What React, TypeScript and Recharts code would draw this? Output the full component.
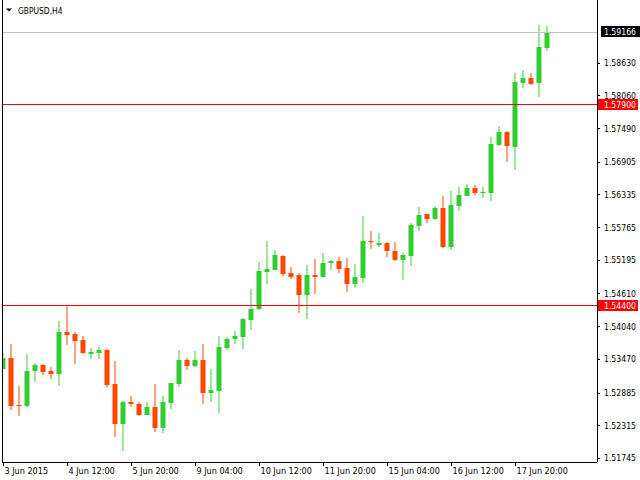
import React from "react";
import { ComposedChart, Bar, XAxis, YAxis, ReferenceLine } from "recharts";

// GBPUSD H4 candles, 3 Jun 2015 04:00 .. 18 Jun 2015
const OPEN = [
  1.53303, 1.53495, 1.52676, 1.52659, 1.53274, 1.53373, 1.53268, 1.53221, 1.53947, 1.53913,
  1.53808, 1.5357, 1.53587, 1.53634, 1.53042, 1.52351, 1.52729, 1.52694, 1.52508, 1.52642,
  1.52281, 1.52716, 1.53047, 1.5346, 1.53361, 1.5346, 1.52891, 1.52925, 1.53674, 1.53831,
  1.53866, 1.54161, 1.54353, 1.54997, 1.55032, 1.55271, 1.54975, 1.5494, 1.54597, 1.5494,
  1.54905, 1.55149, 1.55183, 1.55062, 1.54783, 1.54887, 1.55532, 1.55462, 1.55497, 1.55358,
  1.55201, 1.55271, 1.55793, 1.56002, 1.55915, 1.56106, 1.55427, 1.56146, 1.5632, 1.56454,
  1.56373, 1.56373, 1.57203, 1.57429, 1.57173, 1.58288, 1.5837, 1.58288, 1.58897,
];
const HIGH = [
  1.53587, 1.53738, 1.53007, 1.53564, 1.53408, 1.5339, 1.53338, 1.54139, 1.544, 1.53947,
  1.53878, 1.53669, 1.53691, 1.53651, 1.53442, 1.52746, 1.52833, 1.52729, 1.52729, 1.53042,
  1.52833, 1.53065, 1.53634, 1.53495, 1.53617, 1.53738, 1.53303, 1.53878, 1.5386, 1.53965,
  1.54191, 1.54696, 1.55166, 1.55532, 1.55375, 1.55288, 1.55079, 1.54975, 1.55114, 1.55218,
  1.55323, 1.55201, 1.55253, 1.55236, 1.55131, 1.55967, 1.55706, 1.55671, 1.55514, 1.55514,
  1.55323, 1.55845, 1.56124, 1.5601, 1.56141, 1.56315, 1.56402, 1.56472, 1.56524, 1.56507,
  1.56472, 1.57342, 1.57534, 1.57447, 1.58457, 1.58509, 1.58457, 1.59292, 1.59275,
];
const LOW = [
  1.53295, 1.52595, 1.5249, 1.52642, 1.53082, 1.53199, 1.53129, 1.53007, 1.53721, 1.5339,
  1.53564, 1.53477, 1.53477, 1.52995, 1.52124, 1.51881, 1.52647, 1.5249, 1.52503, 1.52212,
  1.52194, 1.52612, 1.52995, 1.53291, 1.53343, 1.52699, 1.52734, 1.52542, 1.53639, 1.53744,
  1.53657, 1.53987, 1.54336, 1.54788, 1.55027, 1.54928, 1.54875, 1.54283, 1.54179, 1.54614,
  1.54887, 1.55032, 1.54975, 1.54644, 1.54713, 1.548, 1.55392, 1.55427, 1.55253, 1.55183,
  1.54853, 1.55096, 1.55706, 1.55845, 1.55897, 1.5541, 1.55375, 1.56059, 1.56315, 1.56338,
  1.56286, 1.56233, 1.57186, 1.56912, 1.56773, 1.58201, 1.58248, 1.58044, 1.5884,
];
const CLOSE = [
  1.535, 1.52664, 1.52659, 1.53268, 1.53373, 1.53251, 1.53221, 1.53947, 1.539, 1.53796,
  1.53587, 1.53604, 1.53634, 1.53025, 1.52351, 1.52729, 1.52694, 1.52508, 1.52642, 1.52281,
  1.52729, 1.53059, 1.5346, 1.53361, 1.5346, 1.52891, 1.52938, 1.53686, 1.53825, 1.53878,
  1.54174, 1.54348, 1.55009, 1.55044, 1.55288, 1.54962, 1.5491, 1.54597, 1.5494, 1.54905,
  1.55149, 1.55183, 1.55044, 1.54783, 1.54905, 1.55532, 1.55514, 1.55497, 1.55358, 1.55201,
  1.55288, 1.5581, 1.55984, 1.55915, 1.56106, 1.55427, 1.56158, 1.56333, 1.56454, 1.56367,
  1.56385, 1.5722, 1.57429, 1.57191, 1.583, 1.5837, 1.58265, 1.58909, 1.59166,
];

const TIME_TICKS = [0, 8, 16, 24, 32, 40, 48, 56, 64];
const TIME_LABELS = [
  "3 Jun 2015", "4 Jun 12:00", "5 Jun 20:00", "9 Jun 04:00", "10 Jun 12:00",
  "11 Jun 20:00", "15 Jun 04:00", "16 Jun 12:00", "17 Jun 20:00",
];
const PRICE_TICKS = [
  1.5863, 1.5806, 1.5749, 1.56905, 1.56335, 1.55765, 1.55195, 1.5461, 1.5404, 1.5347,
  1.52885, 1.52315, 1.51745,
];
const BID = 1.59166;
const LEVELS = [1.579, 1.544];

const Y_MIN = 1.516836;
const Y_MAX = 1.597283;
const X_MIN = -0.1875;
const X_MAX = 74.1875;

const GREEN = "#32CD32";
const RED = "#FF4500";
const FONT = "'DejaVu Sans Condensed', 'DejaVu Sans', sans-serif";

const rows = OPEN.map((o, i) => ({ i, open: o, high: HIGH[i], low: LOW[i], close: CLOSE[i] }));

const Candle = (props: any) => {
  const { x, y, width, height, payload } = props;
  const cx = x + width / 2;
  const span = payload.high - payload.low;
  const k = span > 0 ? height / span : 0;
  const yO = y + (payload.high - payload.open) * k;
  const yC = y + (payload.high - payload.close) * k;
  const color = payload.close >= payload.open ? GREEN : RED;
  const top = Math.round(Math.min(yO, yC));
  const bh = Math.max(1, Math.round(Math.max(yO, yC)) - top);
  return (
    <g>
      <line x1={cx} x2={cx} y1={Math.round(y)} y2={Math.round(y + height)} stroke={color} strokeWidth={1} />
      <rect x={cx - 2.5} y={top} width={5} height={bh} fill={color} />
    </g>
  );
};

const XTick = (props: any) => {
  const { x, y, payload } = props;
  const idx = TIME_TICKS.indexOf(payload.value);
  return (
    <text x={x + 1} y={y + 6} fontSize={9} fontFamily={FONT} fill="#000" textAnchor="start">
      {TIME_LABELS[idx]}
    </text>
  );
};

const YTick = (props: any) => {
  const { x, y, payload } = props;
  return (
    <text x={x + 2} y={y + 3} fontSize={8.6} fontFamily={FONT} fill="#000" textAnchor="start">
      {Number(payload.value).toFixed(5)}
    </text>
  );
};

const priceTag = (text: string, bg: string, dx: number) => (p: any) => {
  const vb = p.viewBox;
  const right = vb.x + vb.width;
  return (
    <g>
      <rect x={right + dx} y={Math.round(vb.y) - 6} width={40} height={11} fill={bg} />
      <text x={right + 7} y={Math.round(vb.y) + 3} fontSize={8.6} fontFamily={FONT} fill="#fff" textAnchor="start">
        {text}
      </text>
    </g>
  );
};

export default function App() {
  return (
    <div style={{ position: "absolute", left: 0, top: 0, width: 640, height: 480, background: "#fff" }}>
      <ComposedChart width={640} height={480} data={rows} margin={{ top: 0, right: 0, bottom: 0, left: 0 }}>
        <XAxis
          type="number"
          dataKey="i"
          domain={[X_MIN, X_MAX]}
          allowDataOverflow
          ticks={TIME_TICKS}
          interval={0}
          height={18}
          tickSize={4}
          axisLine={{ stroke: "#000", shapeRendering: "crispEdges" }}
          tickLine={{ stroke: "#000", shapeRendering: "crispEdges" }}
          tick={<XTick />}
        />
        <YAxis
          yAxisId="left"
          orientation="left"
          width={2}
          domain={[Y_MIN, Y_MAX]}
          allowDataOverflow
          tick={false}
          tickLine={false}
          axisLine={{ stroke: "#000", shapeRendering: "crispEdges" }}
        />
        <YAxis
          yAxisId="right"
          orientation="right"
          width={43}
          domain={[Y_MIN, Y_MAX]}
          allowDataOverflow
          ticks={PRICE_TICKS}
          interval={0}
          tickSize={3}
          axisLine={{ stroke: "#000", shapeRendering: "crispEdges" }}
          tickLine={{ stroke: "#000", shapeRendering: "crispEdges" }}
          tick={<YTick />}
        />
        <ReferenceLine
          yAxisId="right"
          y={BID}
          stroke="#C0C0C0"
          shapeRendering="crispEdges"
          label={priceTag(BID.toFixed(5), "#000", 4)}
        />
        {LEVELS.map((lv) => (
          <ReferenceLine
            key={lv}
            yAxisId="right"
            y={lv}
            stroke="#FF0000"
            shapeRendering="crispEdges"
            label={priceTag(lv.toFixed(5), "#FF0000", 1)}
          />
        ))}
        <Bar
          yAxisId="right"
          dataKey={(d: any) => [d.low, d.high]}
          barSize={5}
          shape={<Candle />}
          isAnimationActive={false}
        />
      </ComposedChart>
      <svg width={120} height={20} style={{ position: "absolute", left: 0, top: 0 }}>
        <polygon points="6,8.5 12,8.5 9,11.5" fill="#000" />
        <text x={18} y={13.5} fontSize={8.4} fontFamily={FONT} fill="#000">
          GBPUSD,H4
        </text>
      </svg>
    </div>
  );
}
